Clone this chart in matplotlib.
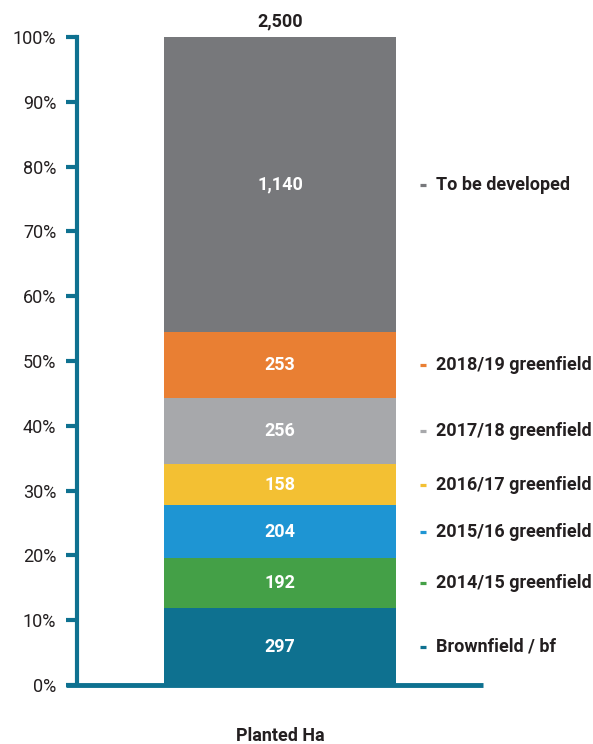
import matplotlib
matplotlib.use("Agg")
import matplotlib.pyplot as plt
import matplotlib.transforms as mtransforms
import numpy as np

plt.rcParams['font.family'] = ['Roboto', 'DejaVu Sans']

category = "Planted Ha"
series_names = ["Brownfield / bf", "2014/15 greenfield", "2015/16 greenfield",
                "2016/17 greenfield", "2017/18 greenfield", "2018/19 greenfield",
                "To be developed"]
series_values = [297, 192, 204, 158, 256, 253, 1140]
series_labels = ["297", "192", "204", "158", "256", "253", "1,140"]
total_label = "2,500"
colors = ["#0E7190", "#44A047", "#1E95D3", "#F3C033", "#A7A8AB", "#E97F33", "#77787B"]
yticks = [0, 10, 20, 30, 40, 50, 60, 70, 80, 90, 100]
ytick_labels = [f"{t}%" for t in yticks]

axis_color = "#0E7190"
text_color = "#231F20"

fig = plt.figure(figsize=(5.93, 7.44), dpi=100)
ax = fig.add_axes([77/593, (744-685)/744, (483-77)/593, (685-37)/744])

total = sum(series_values)
pcts = [v / total * 100 for v in series_values]
bottom = 0.0
width = 0.8
blend = mtransforms.blended_transform_factory(ax.transAxes, ax.transData)
for name, p, lab, c in zip(series_names, pcts, series_labels, colors):
    ax.bar([0], [p], bottom=bottom, width=width, color=c, linewidth=0, zorder=2)
    mid = bottom + p / 2
    ax.text(0, mid, lab, ha='center', va='center', color='white',
            fontsize=13, fontweight='bold', zorder=3)
    ax.plot([0.851], [mid], marker='_', markersize=4.5, markeredgewidth=2.3,
            color=c, transform=blend, clip_on=False)
    ax.text(0.884, mid, name, transform=blend, ha='left', va='center',
            fontsize=13, fontweight='bold', color=text_color)
    bottom += p

ax.text(0, 101.0, total_label, ha='center', va='bottom', fontsize=13,
        fontweight='bold', color=text_color)

ax.set_xlim(-width / 2 / 0.569, width / 2 / 0.569)
ax.set_ylim(0, 100)
ax.set_yticks(yticks)
ax.set_yticklabels(ytick_labels, fontsize=13, color=text_color)
ax.set_xticks([0])
ax.set_xticklabels([category], fontsize=13, fontweight='bold', color=text_color)
ax.tick_params(axis='x', length=0, pad=30)
ax.tick_params(axis='y', length=8, width=3, color=axis_color, pad=7)

for s in ['top', 'right']:
    ax.spines[s].set_visible(False)
ax.spines['left'].set_color(axis_color)
ax.spines['left'].set_linewidth(3)
ax.spines['bottom'].set_visible(False)
# bottom baseline extending left to tick start
ax.plot([-0.027, 1.0], [0, 0], transform=blend, color=axis_color, linewidth=3.5,
        clip_on=False, solid_capstyle='butt', zorder=4)

fig.savefig("out.png", dpi=100)
